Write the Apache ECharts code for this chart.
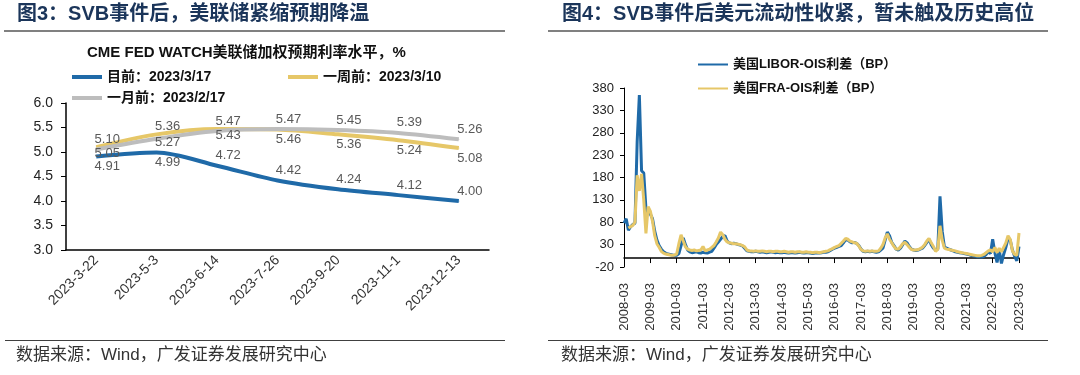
<!DOCTYPE html>
<html>
<head>
<meta charset="utf-8">
<script src="https://cdn.jsdelivr.net/npm/echarts@6/dist/echarts.min.js"></script>
<style>
html, body { margin: 0; padding: 0; background: #fff; }
#main { width: 1080px; height: 375px; }
</style>
</head>
<body>
<div id="main"></div>
<script>
// 图3：CME FED WATCH 各次议息会议
var fedDates = ['2023-3-22', '2023-5-3', '2023-6-14', '2023-7-26', '2023-9-20', '2023-11-1', '2023-12-13'];
var rateNow = [4.91, 4.99, 4.72, 4.42, 4.24, 4.12, 4.00];
var rateWeekAgo = [5.10, 5.36, 5.47, 5.46, 5.36, 5.24, 5.08];
var rateMonthAgo = [5.05, 5.27, 5.43, 5.47, 5.45, 5.39, 5.26];
var fedYTicks = [3.0, 6.0];

// 图4：月度利差，2008-03 ~ 2023-03
var spreadStart = [2008, 3];
var spreadEnd = [2023, 3];
var liborOis = [
    78, 88, 62, 70, 75, 78, 260, 364, 195, 190,
    110, 100, 98, 88, 60, 40, 28, 20, 14, 11, 9, 8,
    7, 6, 6, 10, 28, 45, 30, 18, 14, 12, 13, 14,
    12, 11, 13, 12, 11, 13, 15, 22, 30, 36, 42, 48,
    50, 38, 34, 32, 33, 32, 30, 29, 27, 22, 16, 15,
    14, 14, 15, 14, 13, 14, 13, 12, 13, 14, 13, 12,
    13, 12, 12, 13, 12, 11, 12, 12, 11, 12, 13, 12,
    11, 12, 12, 11, 10, 11, 12, 11, 12, 13, 13, 14,
    17, 20, 22, 24, 26, 28, 34, 41, 40, 36, 34, 35,
    33, 28, 20, 15, 14, 15, 14, 15, 14, 13, 14, 18,
    22, 40, 58, 50, 35, 28, 20, 18, 22, 30, 38, 34,
    26, 20, 18, 17, 18, 20, 22, 28, 35, 42, 30, 22,
    18, 20, 138, 60, 25, 22, 20, 18, 16, 14, 13, 12,
    11, 10, 9, 8, 6, 5, 4, 3, 3, 2, 4, 8,
    14, 10, 42, 12, -10, 18, -12, 8, 24, 44, 40, 18,
    4, -6, 26
];
var fraOis = [
    null, null, 67, 70, 73, 80, 185, 150, 188, 130,
    55, 115, 105, 82, 50, 32, 24, 15, 11, 9, 8, 7,
    6, 7, 9, 32, 52, 38, 25, 20, 18, 17, 18, 16,
    17, 18, 26, 16, 18, 20, 24, 28, 36, 45, 58, 52,
    42, 36, 34, 33, 32, 32, 31, 30, 28, 25, 18, 16,
    16, 15, 16, 15, 15, 16, 15, 14, 15, 15, 14, 15,
    15, 14, 14, 15, 14, 13, 14, 14, 13, 14, 14, 13,
    13, 14, 13, 13, 12, 13, 13, 12, 13, 14, 15, 16,
    19, 21, 24, 26, 28, 33, 38, 44, 42, 38, 36, 34,
    33, 27, 19, 16, 15, 16, 15, 16, 15, 15, 16, 22,
    30, 45, 54, 42, 34, 26, 20, 20, 25, 32, 35, 30,
    24, 19, 18, 18, 19, 21, 24, 30, 38, 44, 34, 26,
    15, 20, 72, 40, 22, 20, 19, 18, 17, 16, 14, 13,
    12, 11, 10, 9, 8, 7, 6, 5, 5, 6, 8, 12,
    16, 18, 14, 24, 12, 22, 14, 24, 34, 50, 42, 16,
    8, 6, 56
];
var spreadYTicks = [-20, 380];

// 月份类目
var spreadMonths = [];
for (let y = spreadStart[0], m = spreadStart[1]; y < spreadEnd[0] || (y === spreadEnd[0] && m <= spreadEnd[1]); m++) {
    if (m > 12) { m = 1; y++; }
    if (y > spreadEnd[0] || (y === spreadEnd[0] && m > spreadEnd[1])) break;
    spreadMonths.push(y + '-' + (m < 10 ? '0' + m : m));
}

var FONT = "'Liberation Sans', Arial, 'Noto Sans CJK SC', sans-serif";
var BLUE = '#1f6aa8';
var YELLOW = '#e6c768';
var GRAY = '#bdbdbd';

var myChart = echarts.init(document.getElementById('main'));

function fedLabel(pos, dy) {
    return {
        show: true,
        position: pos,
        distance: 3,
        offset: [11, dy || 0],
        color: '#595959',
        fontSize: 13,
        fontFamily: FONT,
        formatter: function (p) { return p.value.toFixed(2); }
    };
}

// 标签位置：高的一条在上
var nowPos = ['bottom', 'bottom', 'top', 'top', 'top', 'top', 'top'];
var weekData = rateWeekAgo.map(function (v, i) {
    return { value: v, label: fedLabel(v >= rateMonthAgo[i] ? 'top' : 'bottom', v >= rateMonthAgo[i] ? 2 : 0) };
});
var monthData = rateMonthAgo.map(function (v, i) {
    return { value: v, label: v > rateWeekAgo[i] ? fedLabel('top') : fedLabel('bottom', -6) };
});
var nowData = rateNow.map(function (v, i) {
    return { value: v, label: fedLabel(nowPos[i]) };
});

var axisBlack = { lineStyle: { color: '#000', width: 1.5 } };

var option = {
    backgroundColor: '#fff',
    animation: false,
    textStyle: { fontFamily: FONT },
    graphic: [
        { type: 'text', left: 17, top: 4, style: { text: '图3：SVB事件后，美联储紧缩预期降温', font: 'bold 20px ' + FONT, fill: '#1b355a' } },
        { type: 'line', shape: { x1: 4, y1: 31, x2: 505, y2: 31 }, style: { stroke: '#808080', lineWidth: 2 } },
        { type: 'text', left: 562, top: 4, style: { text: '图4：SVB事件后美元流动性收紧，暂未触及历史高位', font: 'bold 20px ' + FONT, fill: '#1b355a' } },
        { type: 'line', shape: { x1: 548, y1: 31, x2: 1048, y2: 31 }, style: { stroke: '#808080', lineWidth: 2 } },
        { type: 'text', left: 87, top: 45, style: { text: 'CME FED WATCH美联储加权预期利率水平，%', font: 'bold 15px ' + FONT, fill: '#111' } },
        { type: 'line', shape: { x1: 5, y1: 340.5, x2: 505, y2: 340.5 }, style: { stroke: '#404040', lineWidth: 1 } },
        { type: 'line', shape: { x1: 548, y1: 340.5, x2: 1048, y2: 340.5 }, style: { stroke: '#404040', lineWidth: 1 } },
        { type: 'text', left: 16, top: 347, style: { text: '数据来源：Wind，广发证券发展研究中心', font: '17px ' + FONT, fill: '#333' } },
        { type: 'text', left: 561, top: 347, style: { text: '数据来源：Wind，广发证券发展研究中心', font: '17px ' + FONT, fill: '#333' } }
    ],
    legend: [
        {
            data: ['目前：2023/3/17'], left: 67, top: 65, icon: 'rect', itemWidth: 30, itemHeight: 4,
            textStyle: { fontSize: 14, fontWeight: 'bold', color: '#111', fontFamily: FONT }
        },
        {
            data: ['一周前：2023/3/10'], left: 283, top: 65, icon: 'rect', itemWidth: 30, itemHeight: 4,
            textStyle: { fontSize: 14, fontWeight: 'bold', color: '#111', fontFamily: FONT }
        },
        {
            data: ['一月前：2023/2/17'], left: 67, top: 86, icon: 'rect', itemWidth: 30, itemHeight: 4,
            textStyle: { fontSize: 14, fontWeight: 'bold', color: '#111', fontFamily: FONT }
        },
        {
            data: ['美国LIBOR-OIS利差（BP）', '美国FRA-OIS利差（BP）'], orient: 'vertical', left: 693, top: 53,
            itemGap: 11, icon: 'rect', itemWidth: 30, itemHeight: 2,
            textStyle: { fontSize: 13, fontWeight: 'bold', color: '#111', fontFamily: FONT }
        }
    ],
    grid: [
        { left: 66, top: 103, width: 423, height: 147 },
        { left: 624, top: 88, width: 395, height: 179 }
    ],
    xAxis: [
        {
            gridIndex: 0,
            type: 'category',
            data: fedDates,
            boundaryGap: true,
            axisLine: axisBlack,
            axisTick: { length: 5, lineStyle: { color: '#000' } },
            axisLabel: { rotate: 45, color: '#333', fontSize: 14, margin: 8 },
            splitLine: { show: false }
        },
        {
            gridIndex: 1,
            type: 'category',
            data: spreadMonths,
            boundaryGap: false,
            axisLine: { onZero: true, lineStyle: { color: '#000', width: 1.5 } },
            axisTick: {
                length: 5, lineStyle: { color: '#000' },
                interval: function (i) { return i % 12 === 0; }
            },
            axisLabel: {
                rotate: 90, color: '#333', fontSize: 13, margin: 16,
                interval: function (i) { return i % 12 === 0; }
            },
            splitLine: { show: false }
        }
    ],
    yAxis: [
        {
            gridIndex: 0,
            type: 'value',
            min: fedYTicks[0],
            max: fedYTicks[1],
            interval: 0.5,
            axisLine: { show: true, lineStyle: { color: '#000', width: 1.5 } },
            axisTick: { show: true, length: 5, lineStyle: { color: '#000' } },
            axisLabel: { color: '#222', fontSize: 14, margin: 13, formatter: function (v) { return v.toFixed(1); } },
            splitLine: { show: false }
        },
        {
            gridIndex: 1,
            type: 'value',
            min: spreadYTicks[0],
            max: spreadYTicks[1],
            interval: 50,
            axisLine: { show: true, lineStyle: { color: '#000', width: 1 } },
            axisTick: { show: true, length: 4, lineStyle: { color: '#000' } },
            axisLabel: { color: '#222', fontSize: 13, margin: 10 },
            splitLine: { show: false }
        }
    ],
    series: [
        {
            name: '目前：2023/3/17', type: 'line', xAxisIndex: 0, yAxisIndex: 0,
            data: nowData, smooth: 0.3, symbol: 'circle', symbolSize: 1,
            itemStyle: { color: BLUE }, lineStyle: { color: BLUE, width: 4 }, z: 2
        },
        {
            name: '一周前：2023/3/10', type: 'line', xAxisIndex: 0, yAxisIndex: 0,
            data: weekData, smooth: 0.3, symbol: 'circle', symbolSize: 1,
            itemStyle: { color: YELLOW }, lineStyle: { color: YELLOW, width: 4 }, z: 3
        },
        {
            name: '一月前：2023/2/17', type: 'line', xAxisIndex: 0, yAxisIndex: 0,
            data: monthData, smooth: 0.3, symbol: 'circle', symbolSize: 1,
            itemStyle: { color: GRAY }, lineStyle: { color: GRAY, width: 4 }, z: 4
        },
        {
            name: '美国LIBOR-OIS利差（BP）', type: 'line', xAxisIndex: 1, yAxisIndex: 1,
            data: liborOis, showSymbol: false,
            itemStyle: { color: BLUE }, lineStyle: { color: BLUE, width: 3 }, z: 2
        },
        {
            name: '美国FRA-OIS利差（BP）', type: 'line', xAxisIndex: 1, yAxisIndex: 1,
            data: fraOis, showSymbol: false,
            itemStyle: { color: YELLOW }, lineStyle: { color: YELLOW, width: 3 }, z: 3
        }
    ]
};

myChart.setOption(option);
</script>
</body>
</html>
